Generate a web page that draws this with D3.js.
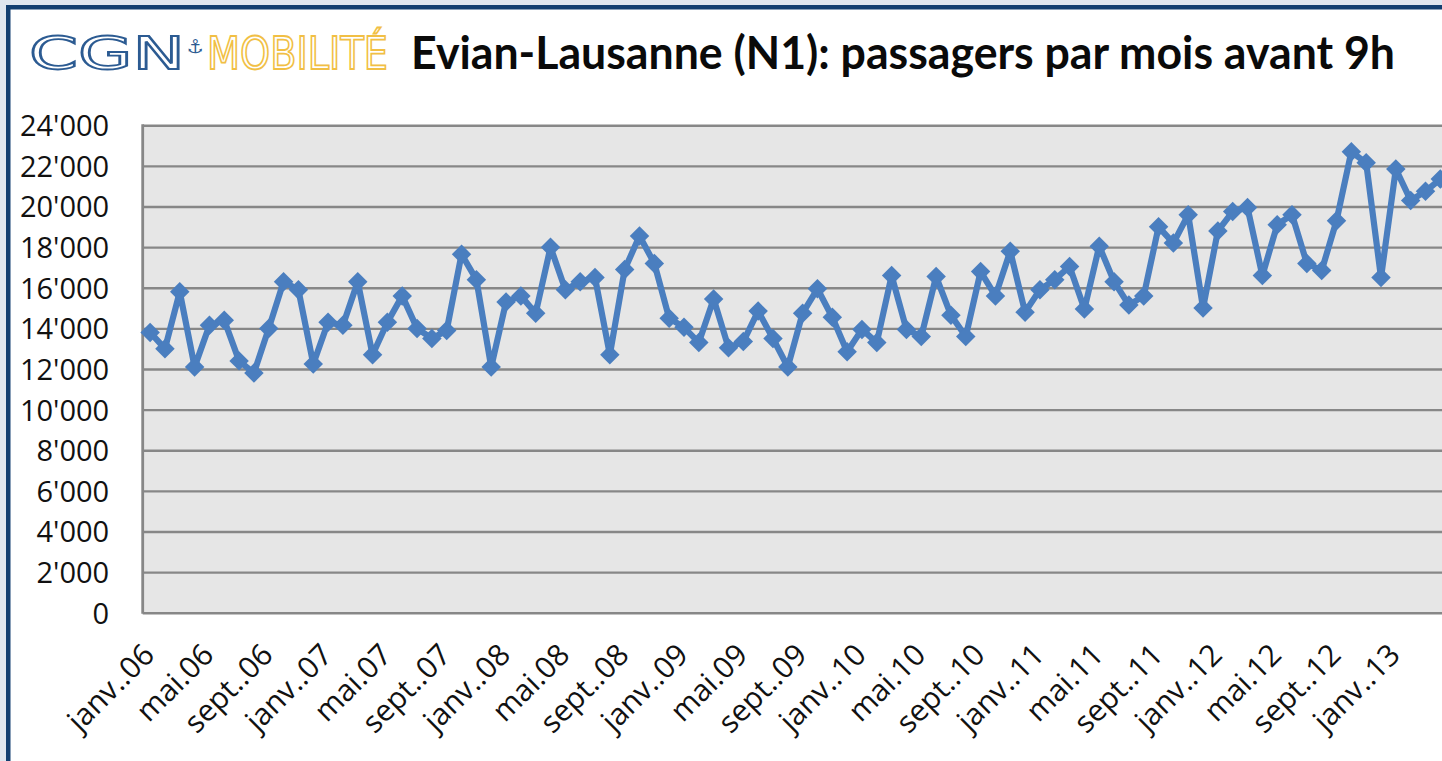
<!DOCTYPE html>
<html>
<head>
<meta charset="utf-8">
<script src="https://cdn.jsdelivr.net/npm/d3@7"></script>
<style>
  html, body { margin: 0; padding: 0; background: #dfe6ef; overflow: hidden; }
  svg { display: block; }
</style>
</head>
<body>
<svg id="chart" width="1442" height="761"></svg>
<script>
// ---- DATA ----
const monthNames = ["janv.", "févr.", "mars", "avr.", "mai", "juin", "juil.", "août", "sept.", "oct.", "nov.", "déc."];
const years = ["06", "07", "08", "09", "10", "11", "12", "13"];
const values = [
  13800, 13000, 15800, 12100, 14150, 14400, 12400, 11800, 14000, 16300, 15900, 12250,
  14300, 14150, 16300, 12700, 14300, 15600, 14000, 13500, 13900, 17650, 16400, 12100,
  15300, 15600, 14750, 18000, 15900, 16300, 16500, 12700, 16900, 18550, 17200, 14500,
  14050, 13300, 15450, 13050, 13350, 14850, 13500, 12100, 14750, 15950, 14550, 12850,
  13950, 13300, 16600, 13950, 13600, 16550, 14650, 13600, 16800, 15600, 17800, 14800,
  15900, 16400, 17050, 14950, 18050, 16300, 15150, 15600, 19000, 18200, 19600, 15000,
  18800, 19750, 19950, 16600, 19100, 19600, 17200, 16850, 19300, 22700, 22150, 16500,
  21850, 20300, 20750, 21350
];
const categories = years.flatMap(yy => monthNames.map(m => m + "." + yy)).slice(0, values.length);
const yTicks = [0, 2000, 4000, 6000, 8000, 10000, 12000, 14000, 16000, 18000, 20000, 22000, 24000];
const tickLabels = categories.filter((c, i) => i % 4 === 0);
const titleText = "Evian-Lausanne (N1): passagers par mois avant 9h";

// ---- LAYOUT ----
const svg = d3.select("#chart");
const W = 1442, H = 761;
const plotLeft = 142.7, plotTop = 125.3, plotBottom = 612.7;
const step = 14.83;
const plotRight = plotLeft + categories.length * step;

// page frame
svg.append("rect").attr("x", 0).attr("y", 0).attr("width", W).attr("height", H).attr("fill", "#dfe6ef");
svg.append("rect").attr("x", 6).attr("y", 5).attr("width", W + 20).attr("height", H + 20).attr("fill", "#123e70");
svg.append("rect").attr("x", 10.5).attr("y", 9.5).attr("width", W + 20).attr("height", H + 20).attr("fill", "#ffffff");

// logo
const logo = svg.append("g");
logo.append("text").text("CGN")
  .attr("x", 29).attr("y", 68.5)
  .attr("font-family", "DejaVu Sans").attr("font-size", 44)
  .attr("textLength", 156).attr("lengthAdjust", "spacingAndGlyphs")
  .attr("fill", "none").attr("stroke", "#2c5b92").attr("stroke-width", 1.8);
logo.append("text").text("⚓")
  .attr("x", 195).attr("y", 53)
  .attr("text-anchor", "middle")
  .attr("font-family", "DejaVu Sans").attr("font-size", 19)
  .attr("fill", "#2c5b92");
logo.append("text").text("MOBILITÉ")
  .attr("x", 207).attr("y", 68.5)
  .attr("font-family", "DejaVu Sans").attr("font-size", 44)
  .attr("textLength", 181).attr("lengthAdjust", "spacingAndGlyphs")
  .attr("fill", "none").attr("stroke", "#f1bf45").attr("stroke-width", 1.8);

// title
svg.append("text").text(titleText)
  .attr("x", 411).attr("y", 69)
  .attr("font-family", "Lato").attr("font-weight", 700).attr("font-size", 45)
  .attr("textLength", 984).attr("lengthAdjust", "spacingAndGlyphs")
  .attr("fill", "#0a0a0a");

// scales
const x = d3.scaleBand().domain(categories).range([plotLeft, plotRight]).padding(0);
const y = d3.scaleLinear().domain([0, 24000]).range([plotBottom, plotTop]);
const fmt = d3.formatLocale({ decimal: ".", thousands: "'", grouping: [3], currency: ["", ""] }).format(",");

// plot background
svg.append("rect")
  .attr("x", plotLeft).attr("y", plotTop)
  .attr("width", plotRight - plotLeft).attr("height", plotBottom - plotTop)
  .attr("fill", "#e6e6e6");

// gridlines
const grid = svg.append("g").attr("transform", `translate(${plotLeft},0)`)
  .call(d3.axisLeft(y).tickValues(yTicks).tickSize(-(plotRight - plotLeft)).tickFormat(""));
grid.select(".domain").remove();
grid.selectAll(".tick line").attr("stroke", "#878787").attr("stroke-width", 2.4);

// left axis line
svg.append("line")
  .attr("x1", plotLeft).attr("x2", plotLeft).attr("y1", plotTop - 1).attr("y2", plotBottom + 1)
  .attr("stroke", "#878787").attr("stroke-width", 2.8);

// y axis labels
const yAxis = svg.append("g").attr("transform", `translate(${plotLeft},0)`)
  .call(d3.axisLeft(y).tickValues(yTicks).tickSize(0).tickPadding(33.5).tickFormat(fmt));
yAxis.select(".domain").remove();
yAxis.selectAll("text")
  .attr("font-family", "Open Sans").attr("font-size", 29).attr("fill", "#111")
  .attr("dy", "0.36em");

// x axis labels
const xAxis = svg.append("g").attr("transform", `translate(0,${plotBottom})`)
  .call(d3.axisBottom(x).tickValues(tickLabels).tickSize(0));
xAxis.select(".domain").remove();
xAxis.selectAll("text")
  .attr("font-family", "Open Sans").attr("font-size", 30).attr("fill", "#111")
  .attr("x", 0).attr("y", 0).attr("dy", null)
  .attr("text-anchor", "end")
  .attr("transform", "translate(6,44) rotate(-45)");

// line
const line = d3.line()
  .x((d, i) => x(categories[i]) + x.bandwidth() / 2)
  .y(d => y(d));
svg.append("path").datum(values)
  .attr("d", line)
  .attr("fill", "none")
  .attr("stroke", "#4a7ebf")
  .attr("stroke-width", 6.2)
  .attr("stroke-linejoin", "round");

// markers (diamonds)
const sym = d3.symbol().type(d3.symbolSquare).size(190);
svg.append("g").selectAll("path").data(values).join("path")
  .attr("d", sym)
  .attr("transform", (d, i) => `translate(${x(categories[i]) + x.bandwidth() / 2},${y(d)}) rotate(45)`)
  .attr("fill", "#4a7ebf");
</script>
</body>
</html>
